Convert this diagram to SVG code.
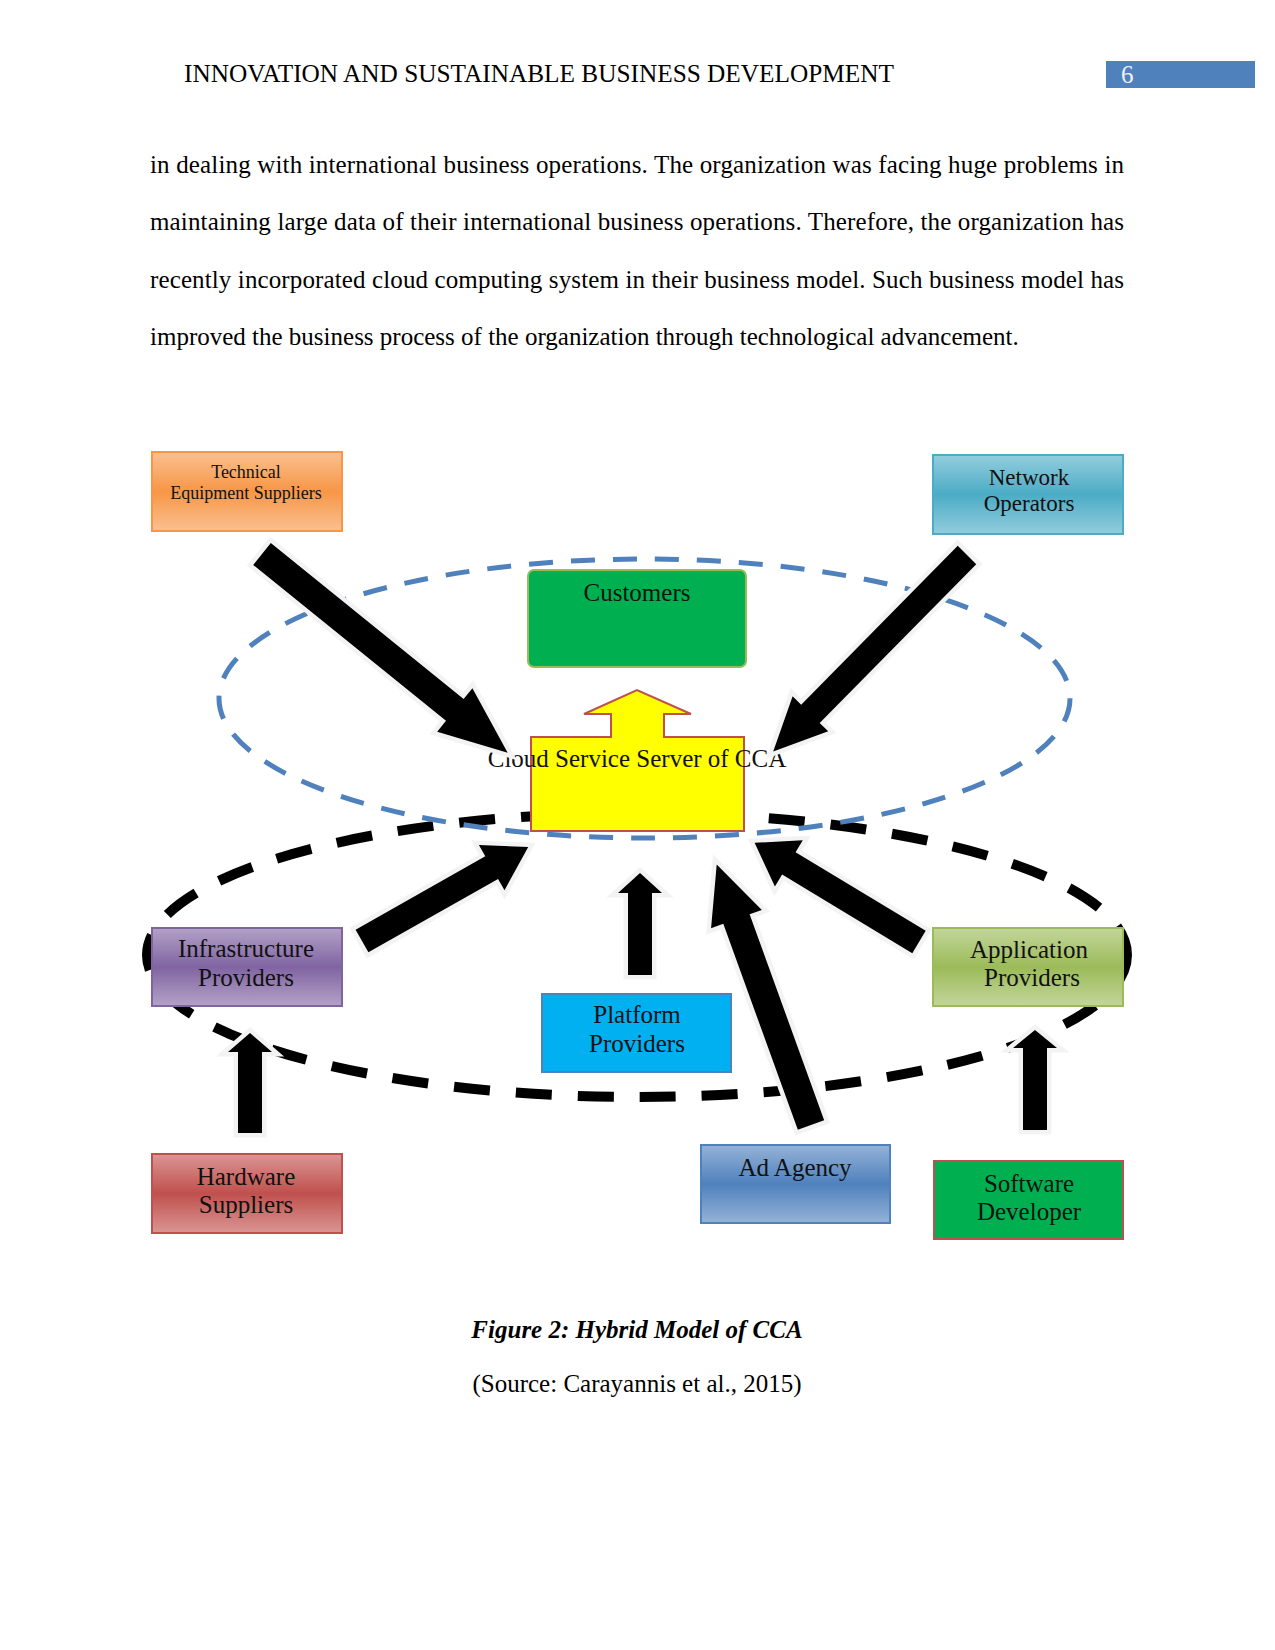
<svg xmlns="http://www.w3.org/2000/svg" width="1275" height="1650" viewBox="0 0 1275 1650">
<style>
.serif{font-family:"Liberation Serif","Times New Roman",serif;fill:#000}
.t25{font-size:25px}
.lbl{font-family:"Liberation Serif","Times New Roman",serif;font-size:25px;fill:#111;text-anchor:middle}
.s18{font-size:18px}
.s23{font-size:23px}
.box{stroke-width:2}
.arrow{fill:#000;stroke:#f3f3f3;stroke-width:9;stroke-linejoin:miter;paint-order:stroke}
</style>
<defs>
<linearGradient id="gOrange" x1="0" y1="0" x2="0" y2="1"><stop offset="0" stop-color="#FAC090"/><stop offset="0.5" stop-color="#F79646"/><stop offset="1" stop-color="#FAC090"/></linearGradient>
<linearGradient id="gTeal" x1="0" y1="0" x2="0" y2="1"><stop offset="0" stop-color="#93CDDD"/><stop offset="0.5" stop-color="#4BACC6"/><stop offset="1" stop-color="#93CDDD"/></linearGradient>
<linearGradient id="gPurple" x1="0" y1="0" x2="0" y2="1"><stop offset="0" stop-color="#B3A2C7"/><stop offset="0.5" stop-color="#8064A2"/><stop offset="1" stop-color="#B3A2C7"/></linearGradient>
<linearGradient id="gGreen" x1="0" y1="0" x2="0" y2="1"><stop offset="0" stop-color="#C3D69B"/><stop offset="0.5" stop-color="#9BBB59"/><stop offset="1" stop-color="#C3D69B"/></linearGradient>
<linearGradient id="gRed" x1="0" y1="0" x2="0" y2="1"><stop offset="0" stop-color="#DA9694"/><stop offset="0.5" stop-color="#C0504D"/><stop offset="1" stop-color="#DA9694"/></linearGradient>
<linearGradient id="gBlue" x1="0" y1="0" x2="0" y2="1"><stop offset="0" stop-color="#95B3D7"/><stop offset="0.5" stop-color="#4F81BD"/><stop offset="1" stop-color="#95B3D7"/></linearGradient>
</defs>
<rect width="1275" height="1650" fill="#fff"/>

<!-- header -->
<text class="serif t25" x="184" y="82" textLength="710" lengthAdjust="spacingAndGlyphs">INNOVATION AND SUSTAINABLE BUSINESS DEVELOPMENT</text>
<rect x="1106" y="61" width="149" height="27" fill="#4F81BD"/>
<text x="1121" y="83" font-family="Liberation Serif, serif" font-size="25" fill="#F2F2F2">6</text>

<!-- body -->
<text class="serif t25" x="150" y="173" textLength="974" lengthAdjust="spacing">in dealing with international business operations. The organization was facing huge problems in</text>
<text class="serif t25" x="150" y="230" textLength="974" lengthAdjust="spacing">maintaining large data of their international business operations. Therefore, the organization has</text>
<text class="serif t25" x="150" y="288" textLength="974" lengthAdjust="spacing">recently incorporated cloud computing system in their business model. Such business model has</text>
<text class="serif t25" x="150" y="345">improved the business process of the organization through technological advancement.</text>

<!-- black dashed ellipse -->
<ellipse cx="637" cy="955" rx="490" ry="142" fill="none" stroke="#000" stroke-width="10" stroke-dasharray="36 26"/>

<g id="customers">
<rect x="528" y="570" width="218" height="97" rx="6" fill="#00B050" stroke="#9BBB59" stroke-width="2"/>
<text class="lbl" x="637" y="601">Customers</text>
</g>

<g id="cloud-server">
<path d="M531,737 H611 V714 H584 L637,690 L691,714 H664 V737 H744 V831 H531 Z" fill="#FFFF00" stroke="#C0504D" stroke-width="2"/>
<text class="lbl" x="637" y="767" fill="#000">Cloud Service Server of CCA</text>
</g>

<!-- blue dashed ellipse -->
<ellipse cx="644.5" cy="698.5" rx="425.5" ry="139.5" fill="none" stroke="#4F81BD" stroke-width="5" stroke-dasharray="24 18"/>

<g id="connectors">
<path class="arrow" transform="translate(262,554) rotate(38.97)" d="M0,-14 L248,-14 L248,-28 L316,0 L248,28 L248,14 L0,14 Z"/>
<path class="arrow" transform="translate(967,555) rotate(134.6)" d="M0,-13 L223,-13 L223,-25 L276,0 L223,25 L223,13 L0,13 Z"/>
<path class="arrow" transform="translate(362,941) rotate(-29.5)" d="M0,-13 L149,-13 L149,-26 L191,0 L149,26 L149,13 L0,13 Z"/>
<path class="arrow" transform="translate(919,942) rotate(211.1)" d="M0,-13 L152,-13 L152,-27 L192,0 L152,27 L152,13 L0,13 Z"/>
<path class="arrow" d="M628,975 L628,893 L618,893 L640,873 L662,893 L652,893 L652,975 Z"/>
<path class="arrow" transform="translate(811,1125) rotate(-109.9)" d="M0,-14 L219,-14 L219,-27 L277,0 L219,27 L219,14 L0,14 Z"/>
<path class="arrow" d="M238,1133 L238,1052 L228,1052 L250,1033 L272,1052 L262,1052 L262,1133 Z"/>
<path class="arrow" d="M1023,1130 L1023,1048 L1013,1048 L1035,1030 L1057,1048 L1047,1048 L1047,1130 Z"/>
</g>

<g id="technical-equipment-suppliers">
<rect class="box" x="152" y="452" width="190" height="79" fill="url(#gOrange)" stroke="#F79646"/>
<text class="lbl s18" x="246" y="478">Technical</text>
<text class="lbl s18" x="246" y="499">Equipment Suppliers</text>
</g>

<g id="network-operators">
<rect class="box" x="933" y="455" width="190" height="79" fill="url(#gTeal)" stroke="#4BACC6"/>
<text class="lbl s23" x="1029" y="485">Network</text>
<text class="lbl s23" x="1029" y="511">Operators</text>
</g>

<g id="infrastructure-providers">
<rect class="box" x="152" y="928" width="190" height="78" fill="url(#gPurple)" stroke="#8064A2"/>
<text class="lbl" x="246" y="957">Infrastructure</text>
<text class="lbl" x="246" y="986">Providers</text>
</g>

<g id="application-providers">
<rect class="box" x="933" y="928" width="190" height="78" fill="url(#gGreen)" stroke="#9BBB59"/>
<text class="lbl" x="1029" y="958">Application</text>
<text class="lbl" x="1032" y="986">Providers</text>
</g>

<g id="platform-providers">
<rect class="box" x="542" y="994" width="189" height="78" fill="#00B0F0" stroke="#4F81BD"/>
<text class="lbl" x="637" y="1023">Platform</text>
<text class="lbl" x="637" y="1052">Providers</text>
</g>

<g id="hardware-suppliers">
<rect class="box" x="152" y="1154" width="190" height="79" fill="url(#gRed)" stroke="#C0504D"/>
<text class="lbl" x="246" y="1185">Hardware</text>
<text class="lbl" x="246" y="1213">Suppliers</text>
</g>

<g id="ad-agency">
<rect class="box" x="701" y="1145" width="189" height="78" fill="url(#gBlue)" stroke="#4F81BD"/>
<text class="lbl" x="795" y="1176">Ad Agency</text>
</g>

<g id="software-developer">
<rect class="box" x="934" y="1161" width="189" height="78" fill="#00B050" stroke="#C0504D"/>
<text class="lbl" x="1029" y="1192">Software</text>
<text class="lbl" x="1029" y="1220">Developer</text>
</g>

<!-- caption -->
<text class="serif t25" x="637" y="1338" text-anchor="middle" font-weight="bold" font-style="italic">Figure 2: Hybrid Model of CCA</text>
<text class="serif t25" x="637" y="1392" text-anchor="middle">(Source: Carayannis et al., 2015)</text>
</svg>
